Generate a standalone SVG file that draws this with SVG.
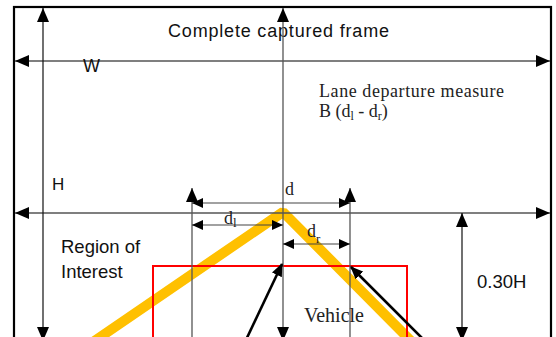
<svg xmlns="http://www.w3.org/2000/svg" width="556" height="337" viewBox="0 0 556 337">
<style>
.sans{font-family:"Liberation Sans","DejaVu Sans",sans-serif;fill:#111}
.serif{font-family:"Liberation Serif","DejaVu Serif",serif;fill:#222}
.ax{stroke:#555;stroke-width:1.3;fill:none}
.axb{stroke:#111;stroke-width:1.2;fill:none}
.big{marker-start:url(#ah);marker-end:url(#ah)}
.dim{stroke:#444;stroke-width:1.2;fill:none;marker-start:url(#as);marker-end:url(#as)}
.ptr{stroke:#000;stroke-width:2.6;fill:none;marker-end:url(#ap)}
</style>
<defs>
<marker id="ah" markerUnits="userSpaceOnUse" markerWidth="14" markerHeight="12" refX="14" refY="6" orient="auto-start-reverse"><path d="M0,0 L14,6 L0,12 Z" fill="#000"/></marker>
<marker id="as" markerUnits="userSpaceOnUse" markerWidth="11" markerHeight="10" refX="11" refY="5" orient="auto-start-reverse"><path d="M0,0 L11,5 L0,10 Z" fill="#000"/></marker>
<marker id="ap" markerUnits="userSpaceOnUse" markerWidth="13" markerHeight="11" refX="12" refY="5.5" orient="auto"><path d="M0,0 L13,5.5 L0,11 Z" fill="#000"/></marker>
</defs>
<rect width="556" height="337" fill="#fff"/>
<g id="frame">
<rect x="14" y="7" width="537" height="345" fill="none" stroke="#000" stroke-width="2.2"/>
<text class="sans" x="168" y="37" font-size="18" textLength="221" lengthAdjust="spacing">Complete captured frame</text>
</g>
<g id="lane">
<polyline points="93,342 283,212 412,342" fill="none" stroke="#FFC000" stroke-width="10" stroke-linejoin="bevel"/>
</g>
<g id="roi">
<rect x="153" y="266" width="254" height="90" fill="none" stroke="#ff0000" stroke-width="2"/>
</g>
<g id="connectors">
<line class="ax big" x1="15" y1="61" x2="550" y2="61"/>
<line class="ax big" x1="15" y1="213" x2="550" y2="213"/>
<line class="axb big" x1="43" y1="8" x2="43" y2="341"/>
<line class="ax big" x1="283" y1="8" x2="283" y2="341"/>
<line class="ax" x1="192" y1="188" x2="192" y2="340" marker-start="url(#ah)"/>
<line class="ax" x1="350" y1="188" x2="350" y2="340" marker-start="url(#ah)"/>
<line class="axb big" x1="462" y1="213" x2="462" y2="341"/>
<line class="dim" x1="192" y1="203" x2="350" y2="203"/>
<line class="dim" x1="192" y1="225" x2="283" y2="225"/>
<line class="dim" x1="283" y1="244" x2="350" y2="244"/>
<line class="ptr" x1="245" y1="342" x2="282" y2="264"/>
<line class="ptr" x1="428" y1="344" x2="351" y2="267"/>
</g>
<g id="labels">
<text class="sans" x="83" y="72" font-size="18">W</text>
<text class="sans" x="52" y="190" font-size="17">H</text>
<text class="serif" x="319" y="97" font-size="18" textLength="185" lengthAdjust="spacing">Lane departure measure</text>
<text class="serif" x="319" y="117" font-size="18">B (d<tspan font-size="12" dy="3">l</tspan><tspan dy="-3"> - d</tspan><tspan font-size="12" dy="3">r</tspan><tspan dy="-3">)</tspan></text>
<text class="serif" x="285" y="195" font-size="18">d</text>
<text class="serif" x="224" y="224" font-size="18">d<tspan font-size="13" dy="3">l</tspan></text>
<text class="serif" x="307" y="237" font-size="18">d<tspan font-size="13" dy="6">r</tspan></text>
<text class="sans" x="61" y="253" font-size="18.5">Region of</text>
<text class="sans" x="61" y="278" font-size="18.5">Interest</text>
<text class="serif" x="304" y="322" font-size="20">Vehicle</text>
<text class="sans" x="477" y="288" font-size="18.5">0.30H</text>
</g>
</svg>
